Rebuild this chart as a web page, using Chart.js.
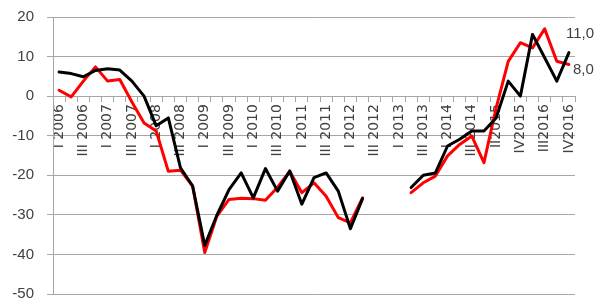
<!DOCTYPE html>
<html>
<head>
<meta charset="utf-8">
<script src="https://cdn.jsdelivr.net/npm/chart.js@4"></script>
<style>
   html, body { margin: 0; padding: 0; background: #ffffff; }
   #box { width: 596px; height: 302px; position: relative; }
</style>
</head>
<body>
<div id="box"><canvas id="quarter_chart"></canvas></div>
<script>
// Quarters on the x axis (every second one is printed)
const quarters = [
   "I 2006", "II 2006", "III 2006", "IV 2006",
   "I 2007", "II 2007", "III 2007", "IV 2007",
   "I 2008", "II 2008", "III 2008", "IV 2008",
   "I 2009", "II 2009", "III 2009", "IV 2009",
   "I 2010", "II 2010", "III 2010", "IV 2010",
   "I 2011", "II 2011", "III 2011", "IV 2011",
   "I 2012", "II 2012", "III 2012", "IV 2012",
   "I 2013", "II 2013", "III 2013", "IV 2013",
   "I 2014", "II 2014", "III 2014", "IV 2014",
   "II2015", "III2015", "IV2015", "I2016",
   "III2016", "III 2016", "IV2016"
];

// Black series
const seriesBlack = [
   6.1, 5.7, 4.9, 6.5, 6.9, 6.6, 3.8, 0.0,
   -7.5, -5.5, -18.1, -22.7, -37.7, -30.1, -23.6, -19.4,
   -25.7, -18.3, -24.0, -18.9, -27.3, -20.6, -19.4, -24.0,
   -33.5, -25.9, null, null, null, -23.1, -20.0, -19.4,
   -12.6, -10.9, -8.8, -8.8, -5.5, 3.8, 0.0, 15.6,
   9.7, 3.8, 11.0
];

// Red series
const seriesRed = [
   1.5, -0.2, 3.8, 7.4, 3.8, 4.2, -1.5, -6.8,
   -8.8, -19.0, -18.7, -22.7, -39.5, -30.3, -26.1, -25.8,
   -25.9, -26.3, -23.0, -19.0, -24.4, -21.9, -25.3, -30.7,
   -32.0, -25.7, null, null, null, -24.4, -21.9, -20.2,
   -15.1, -12.2, -10.1, -16.8, -3.0, 8.8, 13.5, 12.2,
   17.0, 8.8, 8.0
];

// Y axis range and step
const yMin = -50;
const yMax = 20;
const yStep = 10;

const gridGrey = "#a6a6a6";
const textGrey = "#404040";

// Writes the last value of each series next to its line end
const lastValueLabels = {
   id: "lastValueLabels",
   afterDatasetsDraw(chart) {
      const ctx = chart.ctx;
      ctx.save();
      ctx.font = "15px 'Liberation Sans'";
      ctx.fillStyle = textGrey;
      ctx.textAlign = "left";
      ctx.textBaseline = "middle";
      chart.data.datasets.forEach((ds, i) => {
         const meta = chart.getDatasetMeta(i);
         const pt = meta.data[meta.data.length - 1];
         const value = ds.data[ds.data.length - 1];
         const text = value.toFixed(1).replace(".", ",");
         ctx.fillText(text, pt.x + ds.labelDx, pt.y + ds.labelDy);
      });
      ctx.restore();
   }
};

const canvas = document.querySelector("#quarter_chart").getContext("2d");

const chart = new Chart(canvas, {
   type: "line",
   data: {
      labels: quarters,
      datasets: [{
         data: seriesBlack,
         borderColor: "#000000",
         borderWidth: 3,
         labelDx: -3,
         labelDy: -19
      }, {
         data: seriesRed,
         borderColor: "#ff0000",
         borderWidth: 3,
         labelDx: 4,
         labelDy: 5
      }]
   },
   options: {
      responsive: true,
      maintainAspectRatio: false,
      animation: false,
      events: [],
      layout: {
         padding: { left: 0, right: 21, top: 17, bottom: 8 }
      },
      elements: {
         point: { radius: 0 },
         line: { tension: 0, borderJoinStyle: "round", borderCapStyle: "round", fill: false }
      },
      spanGaps: false,
      plugins: {
         legend: { display: false },
         tooltip: { enabled: false }
      },
      scales: {
         x: {
            position: { y: 0 },
            offset: true,
            grid: { offset: true, drawOnChartArea: false, tickLength: 5, color: gridGrey },
            border: { color: gridGrey },
            ticks: {
               autoSkip: false,
               minRotation: 90,
               maxRotation: 90,
               padding: 3,
               color: textGrey,
               font: { family: "DejaVu Sans", size: 14 },
               callback: (v, i) => i % 2 === 0 ? quarters[i] : ""
            },
            afterFit(scale) { scale.height = 0; }
         },
         y: {
            min: yMin,
            max: yMax,
            ticks: {
               stepSize: yStep,
               padding: 13,
               color: textGrey,
               font: { family: "Liberation Sans", size: 15 }
            },
            grid: { color: gridGrey, tickLength: 6 },
            border: { color: gridGrey },
            // fixed width, and no extra room above/below for the tick labels
            afterFit(scale) {
               scale.width = 53;
               scale.paddingTop = 0;
               scale.paddingBottom = 0;
            }
         }
      }
   },
   plugins: [lastValueLabels]
});
</script>
</body>
</html>
